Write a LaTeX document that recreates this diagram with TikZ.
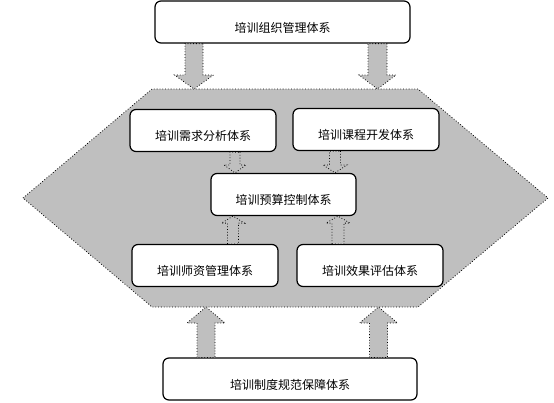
\documentclass[tikz,border=0pt]{standalone}
\usepackage{fontspec}
\newfontfamily\cjk{Noto Sans CJK SC}
\usetikzlibrary{calc}

% block arrow from #1 to #2: half shaft, half head, head length
\newcommand{\fatarrow}[5]{%
  \path (#1) coordinate (fa) (#2) coordinate (fb);
  \path ($(fb)!#5!(fa)$) coordinate (fc);
  \filldraw[arrowfill] ($(fa)!#3!90:(fb)$) -- ($(fc)!#3!90:(fb)$) -- ($(fc)!#4!90:(fb)$) -- (fb)
    -- ($(fc)!#4!-90:(fb)$) -- ($(fc)!#3!-90:(fb)$) -- ($(fa)!#3!-90:(fb)$) -- cycle;}

\begin{document}
\begin{tikzpicture}[x=1pt,y=-1pt,
  sysbox/.style={draw=black,line width=1.2pt,fill=white,rounded corners=6pt,minimum height=42pt,
    text height=20pt,text depth=0pt,font={\cjk\fontsize{12pt}{14pt}\selectfont}},
  arrowfill/.style={fill=black!25,draw=black,line width=0.8pt,dotted},
  hexfill/.style={fill=black!25,draw=black,line width=0.8pt,dotted}]
\useasboundingbox (0,0) rectangle (554,402);
\filldraw[hexfill] (23,198) -- (152,89) coordinate (hexN) -- (418,89) -- (548,198) -- (418,307) -- (152,307) coordinate (hexS) -- cycle;
\node[sysbox,minimum width=255pt] (org) at (282.5,22) {培训组织管理体系};
\node[sysbox,minimum width=146pt] (need) at (203,130.5) {培训需求分析体系};
\node[sysbox,minimum width=146pt] (course) at (366,129.5) {培训课程开发体系};
\node[sysbox,minimum width=145pt] (budget) at (283.5,194.5) {培训预算控制体系};
\node[sysbox,minimum width=146pt] (teacher) at (205,265.5) {培训师资管理体系};
\node[sysbox,minimum width=146pt] (effect) at (370,265.5) {培训效果评估体系};
\node[sysbox,minimum width=254pt] (rule) at (290,379) {培训制度规范保障体系};
\fatarrow{org.south -| 194,0}{hexN -| 194,0}{9pt}{19.5pt}{14pt}
\fatarrow{org.south -| 377.5,0}{hexN -| 377.5,0}{9.5pt}{18.5pt}{14pt}
\fatarrow{need.south -| 235,0}{budget.north -| 235,0}{5pt}{11pt}{8pt}
\fatarrow{course.south -| 335,0}{budget.north -| 335,0}{5.5pt}{12pt}{8pt}
\fatarrow{teacher.north -| 233,0}{budget.south -| 233,0}{5.5pt}{11.5pt}{7pt}
\fatarrow{effect.north -| 338,0}{budget.south -| 338,0}{6pt}{12pt}{7pt}
\fatarrow{rule.north -| 206,0}{hexS -| 206,0}{9pt}{19pt}{16pt}
\fatarrow{rule.north -| 378.5,0}{hexS -| 378.5,0}{9pt}{19pt}{16pt}
\end{tikzpicture}
\end{document}
